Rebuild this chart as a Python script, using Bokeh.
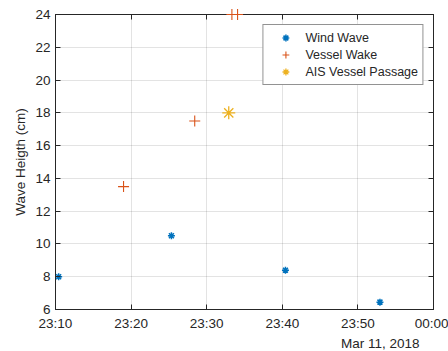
import pandas as pd
from bokeh.plotting import figure
from bokeh.models import (FixedTicker, DatetimeTickFormatter, DatetimeAxis, LinearAxis,
                          Legend, LegendItem, Title, Range1d, CustomJSTickFormatter)
from bokeh.embed import file_html
from bokeh.resources import INLINE

# ---- data ----
day = "2018-03-11"
wind_times = ["23:10:25", "23:25:20", "23:40:25", "23:52:55"]
wind_heights = [8.0, 10.5, 8.4, 6.45]
wake_times = ["23:19:00", "23:28:25", "23:33:20", "23:34:05"]
wake_heights = [13.5, 17.5, 24.0, 24.0]
ais_times = ["23:32:55"]
ais_heights = [18.0]
x_tick_times = ["2018-03-11 23:10", "2018-03-11 23:20", "2018-03-11 23:30",
                "2018-03-11 23:40", "2018-03-11 23:50", "2018-03-12 00:00"]
y_ticks = [6, 8, 10, 12, 14, 16, 18, 20, 22, 24]
y_label = "Wave Heigth (cm)"
date_label = "Mar 11, 2018"
series_names = ["Wind Wave", "Vessel Wake", "AIS Vessel Passage"]


def to_dt(day_str, times):
    return [pd.Timestamp(f"{day_str} {t}").to_pydatetime() for t in times]


def to_ms(stamps):
    return [pd.Timestamp(s).value // 10**6 for s in stamps]


wind_x = to_dt(day, wind_times)
wake_x = to_dt(day, wake_times)
ais_x = to_dt(day, ais_times)
xt = to_ms(x_tick_times)

AX = "#262626"
FONT = "Liberation Sans"

p = figure(width=448, height=351, output_backend="svg", toolbar_location=None,
           x_axis_type="datetime",
           x_range=Range1d(pd.Timestamp(x_tick_times[0]).to_pydatetime(),
                           pd.Timestamp(x_tick_times[-1]).to_pydatetime()),
           y_range=Range1d(y_ticks[0], y_ticks[-1]),
           min_border_left=55, min_border_right=15, min_border_top=14, min_border_bottom=42)
p.background_fill_color = "white"
p.border_fill_color = "white"
p.outline_line_color = AX
p.outline_line_width = 1

fmt = DatetimeTickFormatter(microseconds="%H:%M", milliseconds="%H:%M", seconds="%H:%M",
                            minsec="%H:%M", minutes="%H:%M", hourmin="%H:%M", hours="%H:%M",
                            days="%H:%M", months="%H:%M", years="%H:%M")

xa = p.xaxis[0]
xa.ticker = FixedTicker(ticks=xt)
xa.formatter = fmt
ya = p.yaxis[0]
ya.ticker = FixedTicker(ticks=y_ticks)
ya.axis_label = y_label
for ax in (xa, ya):
    ax.major_tick_in = 5
    ax.major_tick_out = 0
    ax.minor_tick_line_color = None
    ax.major_tick_line_color = AX
    ax.axis_line_color = AX
    ax.major_label_text_font = FONT
    ax.major_label_text_font_size = "13.5px"
    ax.major_label_text_color = AX
    ax.axis_label_text_font = FONT
    ax.axis_label_text_font_size = "13.5px"
    ax.axis_label_text_font_style = "normal"
    ax.axis_label_text_color = AX
xa.major_label_standoff = 6
ya.major_label_standoff = 5
ya.axis_label_standoff = 4

# top and right axes: ticks only
blank = CustomJSTickFormatter(code="return ''")
top = DatetimeAxis(ticker=FixedTicker(ticks=xt), formatter=blank)
right = LinearAxis(ticker=FixedTicker(ticks=y_ticks), formatter=blank)
for ax in (top, right):
    ax.major_tick_in = 5
    ax.major_tick_out = 0
    ax.minor_tick_line_color = None
    ax.major_tick_line_color = AX
    ax.axis_line_color = AX
    ax.major_label_standoff = 0
p.add_layout(top, "above")
p.add_layout(right, "right")

for g in (p.xgrid[0], p.ygrid[0]):
    g.grid_line_color = AX
    g.grid_line_alpha = 0.13
p.xgrid[0].ticker = FixedTicker(ticks=xt)
p.ygrid[0].ticker = FixedTicker(ticks=y_ticks)

r_wind = p.scatter(wind_x, wind_heights, marker="asterisk", size=7, line_color="#0072BD",
                   line_width=1.5)
r_wake = p.scatter(wake_x, wake_heights, marker="cross", size=11, line_color="#D95319",
                   line_width=1.1, level="overlay")
r_ais = p.scatter(ais_x, ais_heights, marker="asterisk", size=13, line_color="#EDB120",
                  line_width=1.3)

legend = Legend(items=[LegendItem(label=series_names[0], renderers=[r_wind]),
                       LegendItem(label=series_names[1], renderers=[r_wake]),
                       LegendItem(label=series_names[2], renderers=[r_ais])],
                location="top_right")
legend.margin = 10
legend.padding = 4
legend.spacing = 0
legend.glyph_width = 36
legend.glyph_height = 17
legend.label_height = 17
legend.label_standoff = 2
legend.label_text_font = FONT
legend.label_text_font_size = "12.5px"
legend.label_text_color = AX
legend.border_line_color = AX
legend.border_line_width = 1
legend.background_fill_color = "white"
legend.background_fill_alpha = 1
p.add_layout(legend)

date_title = Title(text=date_label, align="right", offset=14, standoff=0,
                   text_font=FONT, text_font_size="13.5px", text_font_style="normal",
                   text_color=AX)
p.add_layout(date_title, "below")

open("out.html", "w").write(file_html(p, INLINE))
